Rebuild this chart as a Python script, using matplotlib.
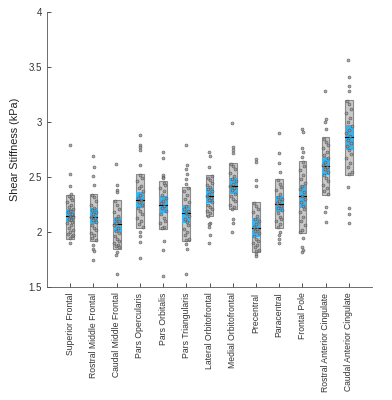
import numpy as np
import matplotlib
matplotlib.use("Agg")
import matplotlib.pyplot as plt
from matplotlib.patches import Rectangle

plt.rcParams['font.family'] = ['Liberation Sans', 'DejaVu Sans']

regions = ["Superior Frontal", "Rostral Middle Frontal", "Caudal Middle Frontal",
           "Pars Opercularis", "Pars Orbitalis", "Pars Triangularis",
           "Lateral Orbitofrontal", "Medial Orbitofrontal", "Precentral",
           "Paracentral", "Frontal Pole", "Rostral Anterior Cingulate",
           "Caudal Anterior Cingulate"]

# mean, spread box (grey) and confidence band (blue), kPa
means = [2.145, 2.14, 2.07, 2.29, 2.25, 2.17, 2.33, 2.42, 2.04, 2.255, 2.33, 2.60, 2.86]
box_lo = [1.94, 1.92, 1.85, 2.04, 2.03, 1.92, 2.145, 2.21, 1.82, 2.04, 1.99, 2.34, 2.52]
box_hi = [2.34, 2.35, 2.29, 2.53, 2.46, 2.41, 2.52, 2.63, 2.27, 2.48, 2.65, 2.86, 3.20]
ci_lo = [2.094, 2.073, 2.003, 2.215, 2.17, 2.085, 2.26, 2.35, 1.957, 2.185, 2.215, 2.518, 2.75]
ci_hi = [2.206, 2.215, 2.14, 2.367, 2.327, 2.245, 2.397, 2.488, 2.124, 2.327, 2.427, 2.68, 2.973]

# individual subjects
sf = [2.79, 2.53, 2.42, 2.35, 2.33, 2.31, 2.29, 2.27, 2.25, 2.23, 2.21, 2.19, 2.18, 2.16, 2.15,
      2.14, 2.12, 2.11, 2.09, 2.08, 2.06, 2.04, 2.02, 2.00, 1.98, 1.96, 1.95, 1.97, 1.90]
rmf = [2.69, 2.59, 2.51, 2.43, 2.34, 2.32, 2.28, 2.25, 2.22, 2.20, 2.18, 2.16, 2.14, 2.13, 2.11,
       2.09, 2.06, 2.04, 2.02, 1.99, 1.97, 1.95, 1.93, 1.88, 1.85, 1.83, 1.75]
cmf = [2.62, 2.43, 2.38, 2.36, 2.28, 2.25, 2.21, 2.18, 2.15, 2.12, 2.10, 2.08, 2.06, 2.04, 2.01,
       1.99, 1.96, 1.94, 1.92, 1.90, 1.88, 1.87, 1.86, 1.82, 1.79, 1.62]
pop = [2.88, 2.79, 2.77, 2.75, 2.61, 2.52, 2.49, 2.46, 2.42, 2.40, 2.37, 2.34, 2.31, 2.29, 2.27,
       2.25, 2.22, 2.19, 2.16, 2.13, 2.10, 2.07, 2.05, 2.00, 1.96, 1.91, 1.76]
porb = [2.73, 2.67, 2.52, 2.50, 2.49, 2.45, 2.43, 2.40, 2.37, 2.34, 2.31, 2.28, 2.26, 2.24, 2.22,
        2.19, 2.16, 2.13, 2.10, 2.08, 2.05, 2.04, 1.92, 1.84, 1.60]
ptri = [2.79, 2.61, 2.57, 2.53, 2.48, 2.44, 2.40, 2.37, 2.34, 2.30, 2.27, 2.24, 2.21, 2.19, 2.17,
        2.15, 2.12, 2.09, 2.06, 2.03, 2.00, 1.97, 1.94, 1.93, 1.89, 1.85, 1.62]
lof = [2.73, 2.69, 2.59, 2.51, 2.49, 2.47, 2.45, 2.43, 2.41, 2.39, 2.37, 2.35, 2.33, 2.31, 2.29,
       2.27, 2.25, 2.23, 2.21, 2.19, 2.17, 2.15, 2.08, 2.07, 2.05, 1.97, 1.90]
mof = [2.99, 2.77, 2.75, 2.72, 2.62, 2.60, 2.57, 2.54, 2.51, 2.48, 2.46, 2.44, 2.42, 2.40, 2.38,
       2.35, 2.33, 2.30, 2.28, 2.25, 2.23, 2.21, 2.12, 2.08, 2.00]
prec = [2.66, 2.64, 2.47, 2.42, 2.26, 2.24, 2.21, 2.18, 2.15, 2.12, 2.10, 2.07, 2.05, 2.03, 2.01,
        1.99, 1.96, 1.94, 1.92, 1.90, 1.88, 1.86, 1.84, 1.83, 1.80, 1.78]
para = [2.90, 2.72, 2.63, 2.55, 2.47, 2.44, 2.41, 2.38, 2.35, 2.32, 2.30, 2.28, 2.26, 2.24, 2.22,
        2.20, 2.17, 2.14, 2.12, 2.10, 2.07, 2.05, 2.00, 1.97, 1.94, 1.90]
fp = [2.94, 2.91, 2.76, 2.73, 2.68, 2.64, 2.60, 2.56, 2.52, 2.48, 2.45, 2.42, 2.39, 2.36, 2.33,
      2.30, 2.27, 2.24, 2.21, 2.18, 2.14, 2.10, 2.06, 2.02, 2.00, 1.95, 1.86, 1.84, 1.82]
rac = [3.28, 3.03, 3.00, 2.94, 2.85, 2.82, 2.79, 2.76, 2.73, 2.70, 2.67, 2.64, 2.61, 2.59, 2.57,
       2.55, 2.52, 2.49, 2.46, 2.43, 2.40, 2.37, 2.35, 2.23, 2.18, 2.09]
cac = [3.56, 3.41, 3.33, 3.28, 3.19, 3.16, 3.12, 3.08, 3.04, 3.00, 2.96, 2.93, 2.90, 2.87, 2.84,
       2.81, 2.78, 2.75, 2.71, 2.67, 2.63, 2.59, 2.55, 2.53, 2.41, 2.22, 2.16, 2.08]
subjects = [sf, rmf, cmf, pop, porb, ptri, lof, mof, prec, para, fp, rac, cac]

jitter = [-0.10, 0.06, -0.03, 0.11, -0.07, 0.02, 0.09, -0.12, 0.04, -0.05, 0.12, -0.01]

fig = plt.figure(figsize=(3.92, 4.0), dpi=100)
ax = fig.add_axes([0.12, 0.2825, 0.829, 0.6875])

w = 0.33
for i in range(len(regions)):
    x = i + 1
    ax.add_patch(Rectangle((x - w/2, box_lo[i]), w, box_hi[i] - box_lo[i],
                           facecolor='#c9c9c9', edgecolor='#8a8a8a', lw=0.8, zorder=1))
    ax.add_patch(Rectangle((x - w/2, ci_lo[i]), w, ci_hi[i] - ci_lo[i],
                           facecolor='#3db3ec', edgecolor='none', zorder=2))
    ax.plot([x - w/2, x + w/2], [means[i], means[i]], color='k', lw=0.8, zorder=3)
    pts = np.array(subjects[i])
    xs = []
    for k, v in enumerate(pts):
        j = jitter[k % len(jitter)]
        if box_lo[i] <= v <= box_hi[i]:
            xs.append(x + j)
        else:
            xs.append(x + j * 0.15)
    ax.scatter(xs, pts, s=4.5, facecolor='#9a9a9a', edgecolor='#4a4a4a',
               linewidths=0.45, alpha=0.8, zorder=4)

ax.set_xlim(0, 14)
ax.set_ylim(1.5, 4)
ax.set_yticks([1.5, 2, 2.5, 3, 3.5, 4])
ax.set_yticklabels(['1.5', '2', '2.5', '3', '3.5', '4'])
ax.set_xticks(range(1, len(regions) + 1))
ax.set_xticklabels(regions, rotation=90)
ax.tick_params(axis='both', direction='in', length=3, width=0.6, colors='#333333',
               labelsize=7)
ax.tick_params(axis='x', labelsize=6.2, pad=4)
ax.set_ylabel('Shear Stiffness (kPa)', fontsize=7.8, color='#222222', labelpad=6)
for s in ['top', 'right']:
    ax.spines[s].set_visible(False)
for s in ['left', 'bottom']:
    ax.spines[s].set_color('#555555')
    ax.spines[s].set_linewidth(0.6)

fig.savefig('out.png', dpi=100)
